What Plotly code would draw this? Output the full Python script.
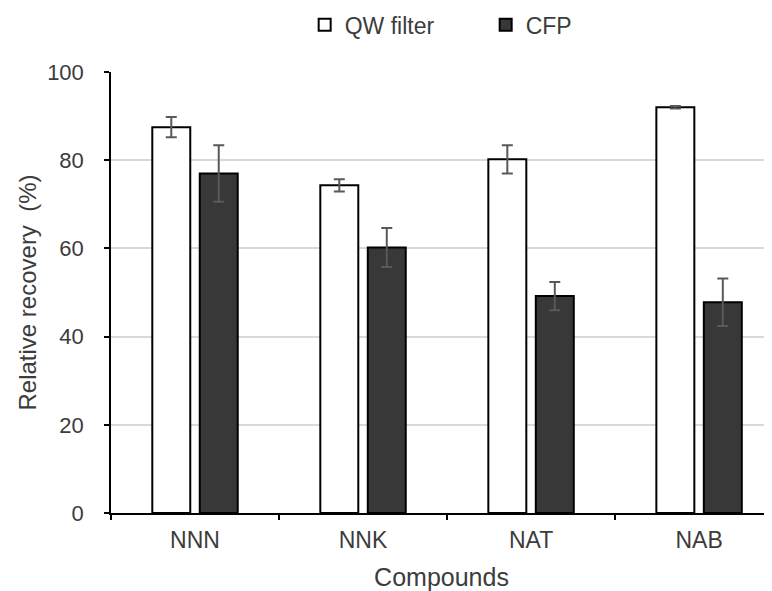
import plotly.graph_objects as go

compounds = ["NNN", "NNK", "NAT", "NAB"]
qw_values = [87.5, 74.3, 80.2, 92.0]
qw_errors = [2.3, 1.4, 3.2, 0.3]
cfp_values = [77.0, 60.2, 49.2, 47.8]
cfp_errors = [6.4, 4.4, 3.2, 5.4]
y_ticks = [0, 20, 40, 60, 80, 100]

font_family = "Liberation Sans, Arial, sans-serif"
text_color = "#3c3c3c"

fig = go.Figure()
fig.add_trace(go.Bar(
    name="QW filter", x=compounds, y=qw_values,
    marker=dict(color="white", line=dict(color="black", width=2)),
    error_y=dict(type="data", array=qw_errors, color="#595959", thickness=2, width=5.5),
))
fig.add_trace(go.Bar(
    name="CFP", x=compounds, y=cfp_values,
    marker=dict(color="#383838", line=dict(color="black", width=2)),
    error_y=dict(type="data", array=cfp_errors, color="#595959", thickness=2, width=5.5),
))

fig.update_layout(
    width=764, height=583,
    margin=dict(l=103, r=0, t=64, b=78, autoexpand=False),
    paper_bgcolor="white", plot_bgcolor="white",
    barmode="group", bargap=0.435, bargroupgap=0.2,
    font=dict(family=font_family, size=22, color=text_color),
    legend=dict(orientation="h", x=0.293, xanchor="left", y=1.107, yanchor="middle",
                font=dict(size=23, color=text_color), itemwidth=30, traceorder="normal",
                entrywidth=136, entrywidthmode="pixels"),
    xaxis=dict(
        type="category", range=[-0.5, 3.434],
        showline=True, linecolor="black", linewidth=1.5,
        ticks="outside", tickson="boundaries", ticklen=5, tickcolor="black", tickwidth=1.5,
        tickfont=dict(size=23, color=text_color), ticklabelstandoff=6,
        title=dict(text="Compounds", font=dict(size=25, color=text_color), standoff=22),
        showgrid=False,
    ),
    yaxis=dict(
        range=[0, 100], tickvals=y_ticks,
        showline=True, linecolor="black", linewidth=1.5,
        ticks="outside", ticklen=5, tickcolor="black", tickwidth=1.5,
        tickfont=dict(size=22, color=text_color), ticklabelstandoff=16,
        showgrid=True, gridcolor="#d9d9d9", gridwidth=1.5,
        zeroline=False,
        title=dict(text="Relative recovery  (%)", font=dict(size=24, color=text_color), standoff=4),
    ),
)

fig.write_html("out.html")
